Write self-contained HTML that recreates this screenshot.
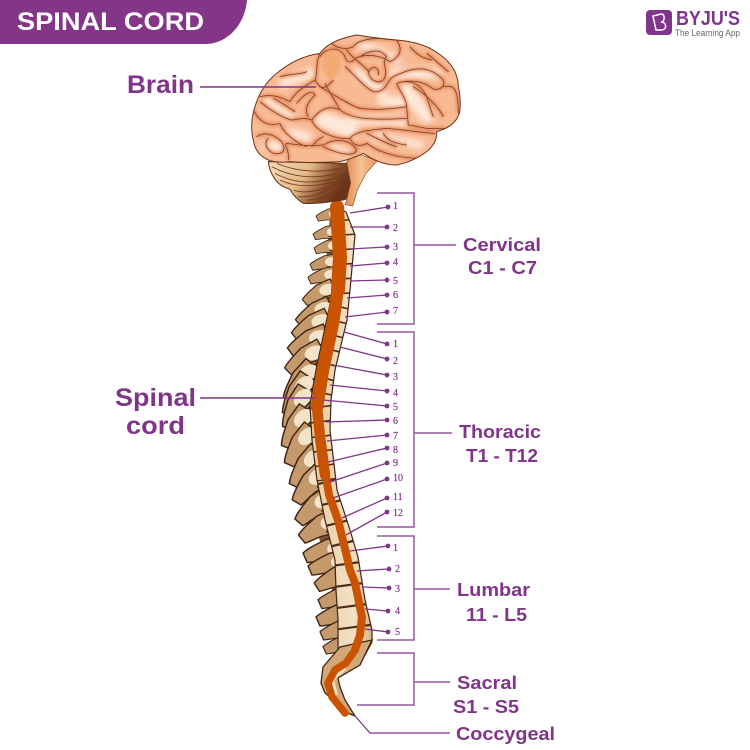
<!DOCTYPE html>
<html><head><meta charset="utf-8"><style>
html,body{margin:0;padding:0;background:#fff;width:750px;height:750px;overflow:hidden}
svg{display:block}
.l{font:bold 18px "Liberation Sans",sans-serif;fill:#81358a}
.n{font:10px "Liberation Serif",serif;fill:#81358a;stroke:#81358a;stroke-width:.2}
.ld{stroke:#81358a;stroke-width:1.3;fill:none}
.br{stroke:#96569e;stroke-width:1.5;fill:none}
</style></head><body>
<svg width="750" height="750" viewBox="0 0 750 750" xmlns="http://www.w3.org/2000/svg">
<defs>
<filter id="b6" x="-20%" y="-20%" width="140%" height="140%"><feGaussianBlur stdDeviation="10"/></filter>
<filter id="b3" x="-20%" y="-20%" width="140%" height="140%"><feGaussianBlur stdDeviation="4"/></filter>
<linearGradient id="cb" x1="0" y1="0" x2="1" y2="0.35"><stop offset="0" stop-color="#f5dcb8"/><stop offset=".5" stop-color="#e2b888"/><stop offset=".8" stop-color="#8a4e2a"/><stop offset="1" stop-color="#6b3418"/></linearGradient>
<linearGradient id="st" x1="0" y1="0" x2="1" y2="0"><stop offset="0" stop-color="#e08a52"/><stop offset=".5" stop-color="#f7c293"/><stop offset="1" stop-color="#e59560"/></linearGradient>
<linearGradient id="bone" x1="0" y1="0" x2="1" y2="0"><stop offset="0" stop-color="#e8cba3"/><stop offset=".7" stop-color="#f3e0c2"/><stop offset="1" stop-color="#d8b58a"/></linearGradient>
<g id="v"><path d="M0,2C5,-3 14,-7 22,-11L40,-14L44,7L26,9C18,8 10,11 4,11Z" fill="#c49a6c" stroke="#3f2413" stroke-width="1.4"/><ellipse cx="33" cy="-2" rx="10" ry="7" fill="#f3e3c8"/><path d="M26,6L42,6" stroke="#3f2413" stroke-width="1.6"/></g>
<path id="sulci" d="M240,70C225,100 235,130 225,150C200,165 165,185 150,215C130,205 100,190 60,200M275,40C290,55 320,60 340,50C355,25 420,20 470,30C490,60 480,80 450,95C420,75 380,70 345,85C335,100 320,100 315,80C300,50 260,50 240,80M315,110C340,130 370,170 400,185C440,190 440,150 460,140C500,120 560,95 610,150C620,170 590,190 570,170C540,150 500,150 470,160M240,170C290,200 340,230 360,235C400,240 440,240 500,230C500,205 470,170 470,160M225,150C240,175 250,185 280,150M255,160C270,190 290,220 300,240M500,230L505,285L560,295L620,295M520,170C570,200 600,240 610,260M610,170C640,165 655,170 655,250M215,270C240,235 270,225 300,240C340,270 400,270 500,265M215,270C225,300 280,330 330,325C350,300 400,300 440,295C500,300 560,310 585,310M60,215C90,240 130,265 155,270C170,270 190,260 215,270M120,280C130,310 170,340 200,350M120,280C90,290 60,280 40,240M50,320C80,300 110,320 125,335C140,360 130,375 100,370C80,360 70,340 85,325M145,390C150,360 130,345 140,340C180,345 210,350 250,345C280,325 330,325 350,360C345,380 300,375 250,350M330,325C340,350 365,350 380,340C420,370 480,385 540,385M380,310C420,330 450,345 470,350M430,310C440,330 460,340 500,345M215,350C225,335 240,325 250,320M360,80C390,60 420,55 440,80C420,100 450,120 430,150C410,165 385,145 385,125C395,105 420,110 415,135M320,60C340,90 380,110 385,125M170,220C190,195 215,175 225,195C205,215 190,235 205,260M100,205C120,215 150,235 165,245M120,140C150,130 180,135 200,125M510,50C530,75 550,85 575,90M560,70C580,85 600,105 625,125M470,160C500,150 535,150 560,200C570,230 575,250 580,260"/>
<clipPath id="bc"><path d="M275,40Q300,25 350,15Q410,25 470,30Q530,35 570,55Q625,85 645,125Q655,150 655,170Q665,220 658,250Q645,290 590,305Q592,340 560,365Q520,395 470,405Q420,405 370,370Q340,385 300,395Q200,400 150,395Q110,400 85,390Q50,375 42,340Q28,290 42,240Q60,170 110,130Q170,80 240,70Q255,50 275,40Z"/></clipPath>
<clipPath id="col"><path d="M337,207L346,212L355,235L350,290L347,320L335,370L331,400L330,430L337,490L350,530L358,557L365,600L372,630L372,642L365,655L338,655L338,620L336,590L335,560L325,520L317,480L312,440L310,405L316,370L326,323L333,290L334,257Z"/></clipPath>
</defs>

<path d="M0,0H247C245,24 228,44 205,44H0Z" fill="#833588"/>
<text x="17" y="30" font-family="Liberation Sans" font-weight="bold" font-size="25" fill="#fff" textLength="187" lengthAdjust="spacingAndGlyphs">SPINAL CORD</text>

<rect x="646" y="10" width="26" height="25" rx="4" fill="#80358c"/>
<path d="M653,16L661,14C665,14 665,20 662,22C667,23 667,30 661,30L656,30Z" fill="none" stroke="#fff" stroke-width="1.5"/>
<text x="676" y="25" font-family="Liberation Sans" font-weight="bold" font-size="20" fill="#7d3590" textLength="64" lengthAdjust="spacingAndGlyphs">BYJU'S</text>
<text x="675" y="36" font-family="Liberation Sans" font-size="9" fill="#666" textLength="65" lengthAdjust="spacingAndGlyphs">The Learning App</text>

<!-- spine back mass -->
<path d="M330,215L328,240L325,270L318,300L312,330L308,360L302,395L300,430L302,465L308,500L318,535L326,560L332,590L336,620L338,650L350,650L345,540L325,440L325,380L340,290L342,215Z" fill="#7d5433"/>
<!-- processes: cervical -->
<use href="#v" transform="translate(316,215) scale(.55)"/>
<use href="#v" transform="translate(313,233) scale(.6)"/>
<use href="#v" transform="translate(314,247) scale(.6)"/>
<use href="#v" transform="translate(310,263) scale(.65)"/>
<use href="#v" transform="translate(308,276) scale(.7)"/>
<use href="#v" transform="translate(302,298) rotate(-15) scale(.8)"/>
<use href="#v" transform="translate(295,318) rotate(-15) scale(.9)"/>
<use href="#v" transform="translate(291,331) rotate(-15) scale(.95)"/>
<use href="#v" transform="translate(287,346) rotate(-12) scale(1)"/>
<use href="#v" transform="translate(284,366) rotate(-20) scale(1)"/>
<!-- thoracic -->
<use href="#v" transform="translate(282,396) rotate(-38) scale(1.05)"/>
<use href="#v" transform="translate(281,411) rotate(-45) scale(1.05)"/>
<use href="#v" transform="translate(281,425) rotate(-48) scale(1.05)"/>
<use href="#v" transform="translate(280,444) rotate(-45) scale(1.05)"/>
<use href="#v" transform="translate(283,461) rotate(-42) scale(1.05)"/>
<use href="#v" transform="translate(288,482) rotate(-40) scale(1.05)"/>
<use href="#v" transform="translate(291,498) rotate(-35) scale(1.05)"/>
<use href="#v" transform="translate(294,517) rotate(-25) scale(1.05)"/>
<use href="#v" transform="translate(298,533) rotate(-15) scale(1.05)"/>
<!-- lumbar -->
<use href="#v" transform="translate(303,551) scale(1.05)"/>
<use href="#v" transform="translate(308,564) scale(1)"/>
<use href="#v" transform="translate(314,581) rotate(-8) scale(1)"/>
<use href="#v" transform="translate(318,598) scale(.95)"/>
<use href="#v" transform="translate(316,615) scale(1)"/>
<use href="#v" transform="translate(320,630) scale(.9)"/>
<use href="#v" transform="translate(323,645) scale(.8)"/>

<!-- vertebral column -->
<path d="M337,207L346,212L355,235L350,290L347,320L335,370L331,400L330,430L337,490L350,530L358,557L365,600L372,630L372,642L365,655L338,655L338,620L336,590L335,560L325,520L317,480L312,440L310,405L316,370L326,323L333,290L334,257Z" fill="url(#bone)" stroke="#3f2413" stroke-width="1.2"/>
<g clip-path="url(#col)" fill="none" stroke="#4d2c18">
<path d="M340,205L345,300L320,400L330,480" stroke-width="70" stroke-dasharray="1.6 13"/>
<path d="M330,480L350,560L362,650" stroke-width="90" stroke-dasharray="2.2 19"/>
</g>

<!-- sacrum -->
<path d="M340,647L323,667L321,683L325,693L333,700L340,710L355,716L345,700L340,687L338,678L360,665L372,640Z" fill="#d2a878" stroke="#3f2413" stroke-width="1.3"/>
<path d="M345,668L332,680L336,695M352,650L346,666" stroke="#f3e3c8" stroke-width="4" fill="none"/>

<!-- cord -->
<g fill="none" stroke="#c95300" stroke-linejoin="round" stroke-linecap="round">
<path d="M337,207L338,225L340,257L338,290" stroke-width="14"/>
<path d="M339,280L333,323L323,370L317,407" stroke-width="12.5"/>
<path d="M317,407L320,437L325,475" stroke-width="10.5"/>
<path d="M325,470L329,495L338,520L347,557L350,570L355,583L362,617L360,635L355,650" stroke-width="8"/>
<path d="M355,650L346,663L335,670L328,683L332,697L345,713" stroke-width="7.5"/>
</g>

<!-- brain (zoom coordinates) -->
<g transform="translate(240,30) scale(.33333)">
<path d="M85,395L320,400C335,440 332,480 322,505Q310,512 290,512Q240,522 190,520Q165,505 150,478Q115,468 100,440Q88,420 85,395Z" fill="url(#cb)" stroke="#5c3018" stroke-width="3"/>
<path d="M95,410C150,440 220,450 290,430M105,430C160,460 220,465 300,440M120,450C170,475 230,470 310,450M160,480C200,495 260,480 320,440M175,500C230,505 290,470 325,420M200,510C260,510 310,470 328,430M110,400C170,425 240,430 300,415" stroke="#6e3a1c" stroke-width="2.5" fill="none"/>
<path d="M320,395L350,370L412,392L378,430L352,480L338,528L316,524L332,460Z" fill="url(#st)" stroke="#8b4a28" stroke-width="2"/>
<path d="M275,40Q300,25 350,15Q410,25 470,30Q530,35 570,55Q625,85 645,125Q655,150 655,170Q665,220 658,250Q645,290 590,305Q592,340 560,365Q520,395 470,405Q420,405 370,370Q340,385 300,395Q200,400 150,395Q110,400 85,390Q50,375 42,340Q28,290 42,240Q60,170 110,130Q170,80 240,70Q255,50 275,40Z" fill="#f8b993"/>
<g clip-path="url(#bc)">
<g fill="none" stroke="#ffe9dc" stroke-linecap="round" filter="url(#b6)">
<path d="M130,160L210,130" stroke-width="30"/>
<path d="M80,215L150,260" stroke-width="24"/>
<path d="M250,270L330,300" stroke-width="50"/>
<path d="M330,270L500,275" stroke-width="24"/>
<path d="M350,130L420,180" stroke-width="30"/>
<path d="M360,40L470,90" stroke-width="26"/>
<path d="M460,130L590,130" stroke-width="30"/>
<path d="M430,210L490,220" stroke-width="34"/>
<path d="M400,320L540,345" stroke-width="24"/>
<path d="M80,350L120,350" stroke-width="30"/>
<path d="M150,310L200,320" stroke-width="30"/>
<path d="M280,355L320,370" stroke-width="24"/>
<path d="M500,180L560,260" stroke-width="40"/>
</g>
<use href="#sulci" fill="none" stroke="#d8703c" stroke-width="12" opacity=".55" filter="url(#b3)"/>
<use href="#sulci" fill="none" stroke="#7a3a1e" stroke-width="2.2" stroke-linecap="round"/>
<path d="M270,60C240,80 235,120 270,150C310,130 320,70 270,60Z" fill="#f3a66f" filter="url(#b3)" opacity=".8"/>
</g>
<path d="M275,40Q300,25 350,15Q410,25 470,30Q530,35 570,55Q625,85 645,125Q655,150 655,170Q665,220 658,250Q645,290 590,305Q592,340 560,365Q520,395 470,405Q420,405 370,370Q340,385 300,395Q200,400 150,395Q110,400 85,390Q50,375 42,340Q28,290 42,240Q60,170 110,130Q170,80 240,70Q255,50 275,40Z" fill="none" stroke="#6e3418" stroke-width="3"/>
</g>

<!-- leaders -->
<g class="ld">
<path d="M350,213L388,207M350,227L387,227M350,249L387,247M350,266L387,263M350,281L387,280M347,298L387,295M345,317L387,312"/>
<path d="M344,332L387,344M340,347L387,359M333,365L387,375M330,385L387,391M323,400L387,406M326,422L387,420M327,441L387,435M328,462L387,448M330,482L387,463M333,498L387,479M342,518L387,498M346,535L387,512"/>
<path d="M350,551L388,546M357,571L389,569M362,587L389,588M365,609L388,611M365,629L388,632"/>
<path d="M355,716L370,733H450"/>
</g>
<g fill="#81358a">
<circle cx="388" cy="207" r="2.4"/><circle cx="387" cy="227" r="2.4"/><circle cx="387" cy="247" r="2.4"/><circle cx="387" cy="263" r="2.4"/><circle cx="387" cy="280" r="2.4"/><circle cx="387" cy="295" r="2.4"/><circle cx="387" cy="312" r="2.4"/>
<circle cx="387" cy="344" r="2.4"/><circle cx="387" cy="359" r="2.4"/><circle cx="387" cy="375" r="2.4"/><circle cx="387" cy="391" r="2.4"/><circle cx="387" cy="406" r="2.4"/><circle cx="387" cy="420" r="2.4"/><circle cx="387" cy="435" r="2.4"/><circle cx="387" cy="448" r="2.4"/><circle cx="387" cy="463" r="2.4"/><circle cx="387" cy="479" r="2.4"/><circle cx="387" cy="498" r="2.4"/><circle cx="387" cy="512" r="2.4"/>
<circle cx="388" cy="546" r="2.4"/><circle cx="389" cy="569" r="2.4"/><circle cx="389" cy="588" r="2.4"/><circle cx="388" cy="611" r="2.4"/><circle cx="388" cy="632" r="2.4"/>
</g>
<g class="n">
<text x="393" y="209">1</text><text x="393" y="231">2</text><text x="393" y="250">3</text><text x="393" y="265">4</text><text x="393" y="284">5</text><text x="393" y="298">6</text><text x="393" y="314">7</text>
<text x="393" y="347">1</text><text x="393" y="364">2</text><text x="393" y="380">3</text><text x="393" y="396">4</text><text x="393" y="410">5</text><text x="393" y="424">6</text><text x="393" y="439">7</text><text x="393" y="453">8</text><text x="393" y="466">9</text><text x="393" y="481">10</text><text x="393" y="500">11</text><text x="393" y="516">12</text>
<text x="393" y="551">1</text><text x="395" y="572">2</text><text x="395" y="592">3</text><text x="395" y="614">4</text><text x="395" y="635">5</text>
</g>

<!-- brackets -->
<g class="br">
<path d="M377,193H414V324H377M414,245H456"/>
<path d="M377,332H414V527H377M414,433H452"/>
<path d="M377,536H414V640H377M414,589H450"/>
<path d="M377,653H414V705H357M414,682H450"/>
</g>

<!-- main leaders -->
<path d="M200,87H316M200,398H315" stroke="#81358a" stroke-width="1.5" fill="none"/>

<!-- labels -->
<text class="l" x="127" y="93" style="font-size:25px" textLength="67" lengthAdjust="spacingAndGlyphs">Brain</text>
<text class="l" x="115" y="406" style="font-size:25px" textLength="81" lengthAdjust="spacingAndGlyphs">Spinal</text>
<text class="l" x="126" y="434" style="font-size:25px" textLength="59" lengthAdjust="spacingAndGlyphs">cord</text>
<text class="l" x="463" y="251" textLength="78" lengthAdjust="spacingAndGlyphs">Cervical</text>
<text class="l" x="468" y="274" textLength="69" lengthAdjust="spacingAndGlyphs">C1 - C7</text>
<text class="l" x="459" y="438" textLength="82" lengthAdjust="spacingAndGlyphs">Thoracic</text>
<text class="l" x="466" y="462" textLength="72" lengthAdjust="spacingAndGlyphs">T1 - T12</text>
<text class="l" x="457" y="596" textLength="73" lengthAdjust="spacingAndGlyphs">Lumbar</text>
<text class="l" x="466" y="621" textLength="61" lengthAdjust="spacingAndGlyphs">11 - L5</text>
<text class="l" x="457" y="689" textLength="60" lengthAdjust="spacingAndGlyphs">Sacral</text>
<text class="l" x="453" y="713" textLength="66" lengthAdjust="spacingAndGlyphs">S1 - S5</text>
<text class="l" x="456" y="740" textLength="99" lengthAdjust="spacingAndGlyphs">Coccygeal</text>
</svg>
</body></html>
